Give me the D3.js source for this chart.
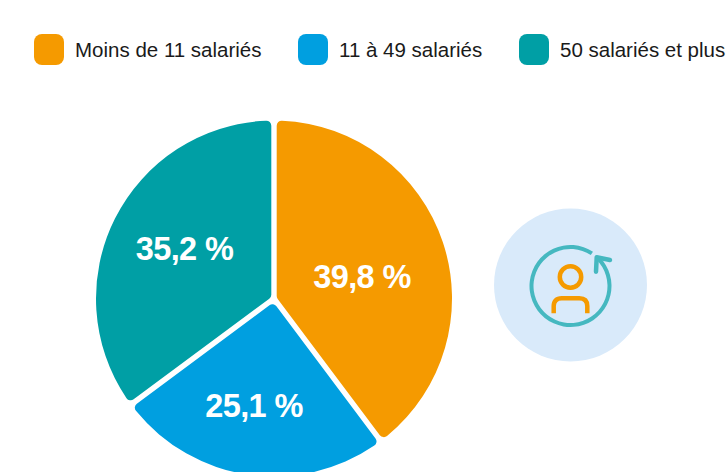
<!DOCTYPE html>
<html lang="fr">
<head>
<meta charset="utf-8">
<title>Répartition par taille d'entreprise</title>
<script src="https://d3js.org/d3.v7.min.js"></script>
<style>
  html, body { margin: 0; padding: 0; background: #fff; overflow: hidden; }
  text { font-family: "Liberation Sans", Arial, sans-serif; }
</style>
</head>
<body>
<svg id="chart" width="727" height="472"></svg>
<script>
var categories = ["Moins de 11 salariés", "11 à 49 salariés", "50 salariés et plus"]
var shares = [39.8, 25.1, 35.2]
var shareLabels = ["39,8 %", "25,1 %", "35,2 %"]
var colors = ["#f59a00", "#009fe0", "#009fa5"]

var svg = d3.select("#chart")

// legend
var legendX = [34, 298, 519]
var legend = svg.selectAll(".legend")
    .data(categories)
    .enter()
    .append("g")
    .attr("class", "legend")
    .attr("transform", function(d, i) { return "translate(" + legendX[i] + ",34)" })
legend.append("rect")
    .attr("width", 30)
    .attr("height", 31)
    .attr("rx", 8)
    .attr("fill", function(d, i) { return colors[i] })
legend.append("text")
    .attr("x", 41)
    .attr("y", 23)
    .attr("font-size", 20.5)
    .attr("fill", "#1a1a1a")
    .text(function(d) { return d })

// pie
var radius = 178
var gap = 2.7      // half of the white gap between slices
var corner = 5

// d3.arc's padAngle pinches the gap at the centre, so the wedge is built by hand
function wedge(d) {
    var a0 = d.startAngle, a1 = d.endAngle, R = radius, g = gap, c = corner
    var u = function(a, r) { return [r * Math.sin(a), -r * Math.cos(a)] }
    var n = function(a, r) { return [r * Math.cos(a), r * Math.sin(a)] }
    var dot = function(p, q) { return p[0] * q[0] + p[1] * q[1] }
    var da = Math.asin((g + c) / (R - c))
    var b0 = a0 + da, b1 = a1 - da
    var c0 = u(b0, R - c), c1 = u(b1, R - c)
    var t0 = dot(c0, u(a0, 1)), t1 = dot(c1, u(a1, 1))
    var e0 = [n(a0, g)[0] + u(a0, t0)[0], n(a0, g)[1] + u(a0, t0)[1]]
    var e1 = [-n(a1, g)[0] + u(a1, t1)[0], -n(a1, g)[1] + u(a1, t1)[1]]
    var apex = u((a0 + a1) / 2, g / Math.sin((a1 - a0) / 2))
    var p = d3.path()
    p.moveTo(e1[0], e1[1])
    p.arcTo(apex[0], apex[1], e0[0], e0[1], corner)
    p.lineTo(e0[0], e0[1])
    p.arc(c0[0], c0[1], c, Math.atan2(e0[1] - c0[1], e0[0] - c0[0]), b0 - Math.PI / 2)
    p.arc(0, 0, R, b0 - Math.PI / 2, b1 - Math.PI / 2)
    p.arc(c1[0], c1[1], c, b1 - Math.PI / 2, Math.atan2(e1[1] - c1[1], e1[0] - c1[0]))
    p.closePath()
    return p.toString()
}

var pie = d3.pie().sort(null).value(function(d) { return d })
var slices = pie(shares)
var pieG = svg.append("g").attr("transform", "translate(274,298.5)")
pieG.selectAll("path")
    .data(slices)
    .enter()
    .append("path")
    .attr("d", wedge)
    .attr("fill", function(d, i) { return colors[i] })

// labels are not on the centroids in the original, placed by eye
var labelX = [362, 254, 184.5]
var labelY = [288, 417, 260]
svg.selectAll(".share")
    .data(shareLabels)
    .enter()
    .append("text")
    .attr("class", "share")
    .attr("x", function(d, i) { return labelX[i] })
    .attr("y", function(d, i) { return labelY[i] })
    .attr("text-anchor", "middle")
    .attr("font-size", 32.5)
    .attr("font-weight", "bold")
    .attr("letter-spacing", -0.6)
    .attr("fill", "#fff")
    .text(function(d) { return d })

// icon
var icon = svg.append("g").attr("transform", "translate(570.5,285)")
icon.append("circle").attr("r", 76.5).attr("fill", "#d9eafa")
icon.append("path")
    .attr("transform", "translate(0,1)")
    .attr("d", d3.arc().innerRadius(37).outerRadius(41).startAngle(0.78).endAngle(2 * Math.PI + 0.58)())
    .attr("fill", "#45b8c0")
icon.append("path")
    .attr("d", "M39.5,-25 L26.2,-27.7 L25.5,-13.3")
    .attr("fill", "none")
    .attr("stroke", "#45b8c0")
    .attr("stroke-width", 4.5)
    .attr("stroke-linecap", "round")
    .attr("stroke-linejoin", "round")
icon.append("circle")
    .attr("cy", -8)
    .attr("r", 10.7)
    .attr("fill", "none")
    .attr("stroke", "#f59a00")
    .attr("stroke-width", 4.5)
icon.append("path")
    .attr("d", "M-16.8,28.3 V21.3 Q-16.8,13.3 -8.8,13.3 H8.8 Q16.8,13.3 16.8,21.3 V28.3")
    .attr("fill", "none")
    .attr("stroke", "#f59a00")
    .attr("stroke-width", 4.5)
</script>
</body>
</html>
